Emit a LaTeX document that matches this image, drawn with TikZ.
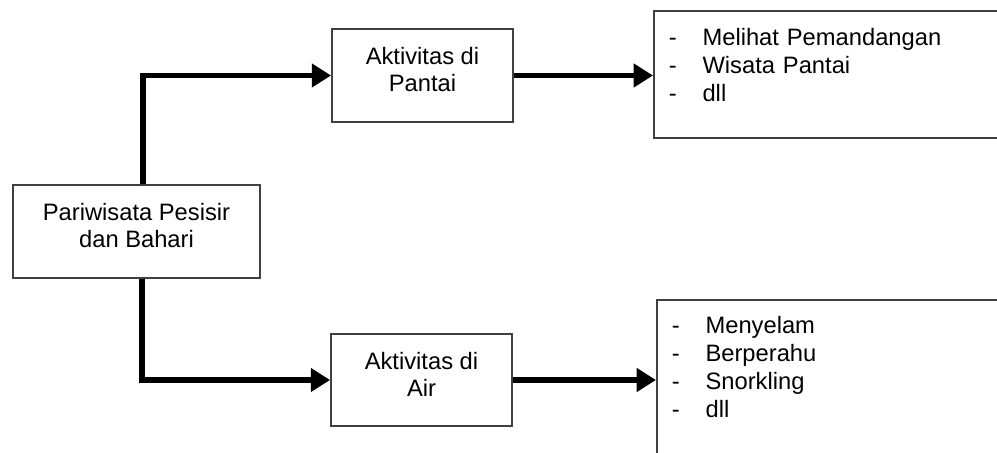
\documentclass[tikz,border=0pt]{standalone}
\usepackage{fontspec}
\setmainfont{Liberation Sans}
\usetikzlibrary{arrows.meta,positioning}
\newcommand{\butir}[1]{\makebox[19.2pt][l]{-}#1}

\begin{document}
\begin{tikzpicture}[x=0.2mm, y=-0.2mm,
  font=\fontsize{13.5}{15.5}\selectfont,
  kotak/.style={draw=black!75, line width=1pt, align=center, inner xsep=0pt, inner ysep=0pt, text height=35.7pt, text depth=17pt},
  daftar/.style={draw=black!75, line width=1pt, anchor=north west, align=left, inner xsep=8.5pt, inner ysep=0pt, text width=188pt, font=\fontsize{13.5}{15.8}\selectfont},
  panah/.style={-{Triangle[length=11pt, width=13pt]}, line width=3.4pt}]
\clip (0,0) rectangle (997,452);
\node[kotak, minimum width=49.4mm] (pariwisata) at (136.5,231.5) {Pariwisata Pesisir\\dan Bahari};
\node[kotak, minimum width=36.2mm] (pantai) at (422.5,75.5) {Aktivitas di\\Pantai};
\node[kotak, minimum width=36.2mm] (air) at (421.5,380) {Aktivitas di\\Air};
\node[daftar, text height=19.8pt, text depth=52.7pt] (daftarpantai) at (653,10) {\butir{Melihat Pemandangan}\\\butir{Wisata Pantai}\\\butir{dll}};
\node[daftar, text height=19.3pt, text depth=77.7pt] (daftarair) at (656,299) {\butir{Menyelam}\\\butir{Berperahu}\\\butir{Snorkling}\\\butir{dll}};
\draw[panah] ([xshift=1.3mm]pariwisata.north) |- (pantai.west);
\draw[panah] ([xshift=1.1mm]pariwisata.south) |- (air.west);
\draw[panah] (pantai.east) -- (pantai.east -| daftarpantai.west);
\draw[panah] (air.east) -- (air.east -| daftarair.west);
\end{tikzpicture}
\end{document}
